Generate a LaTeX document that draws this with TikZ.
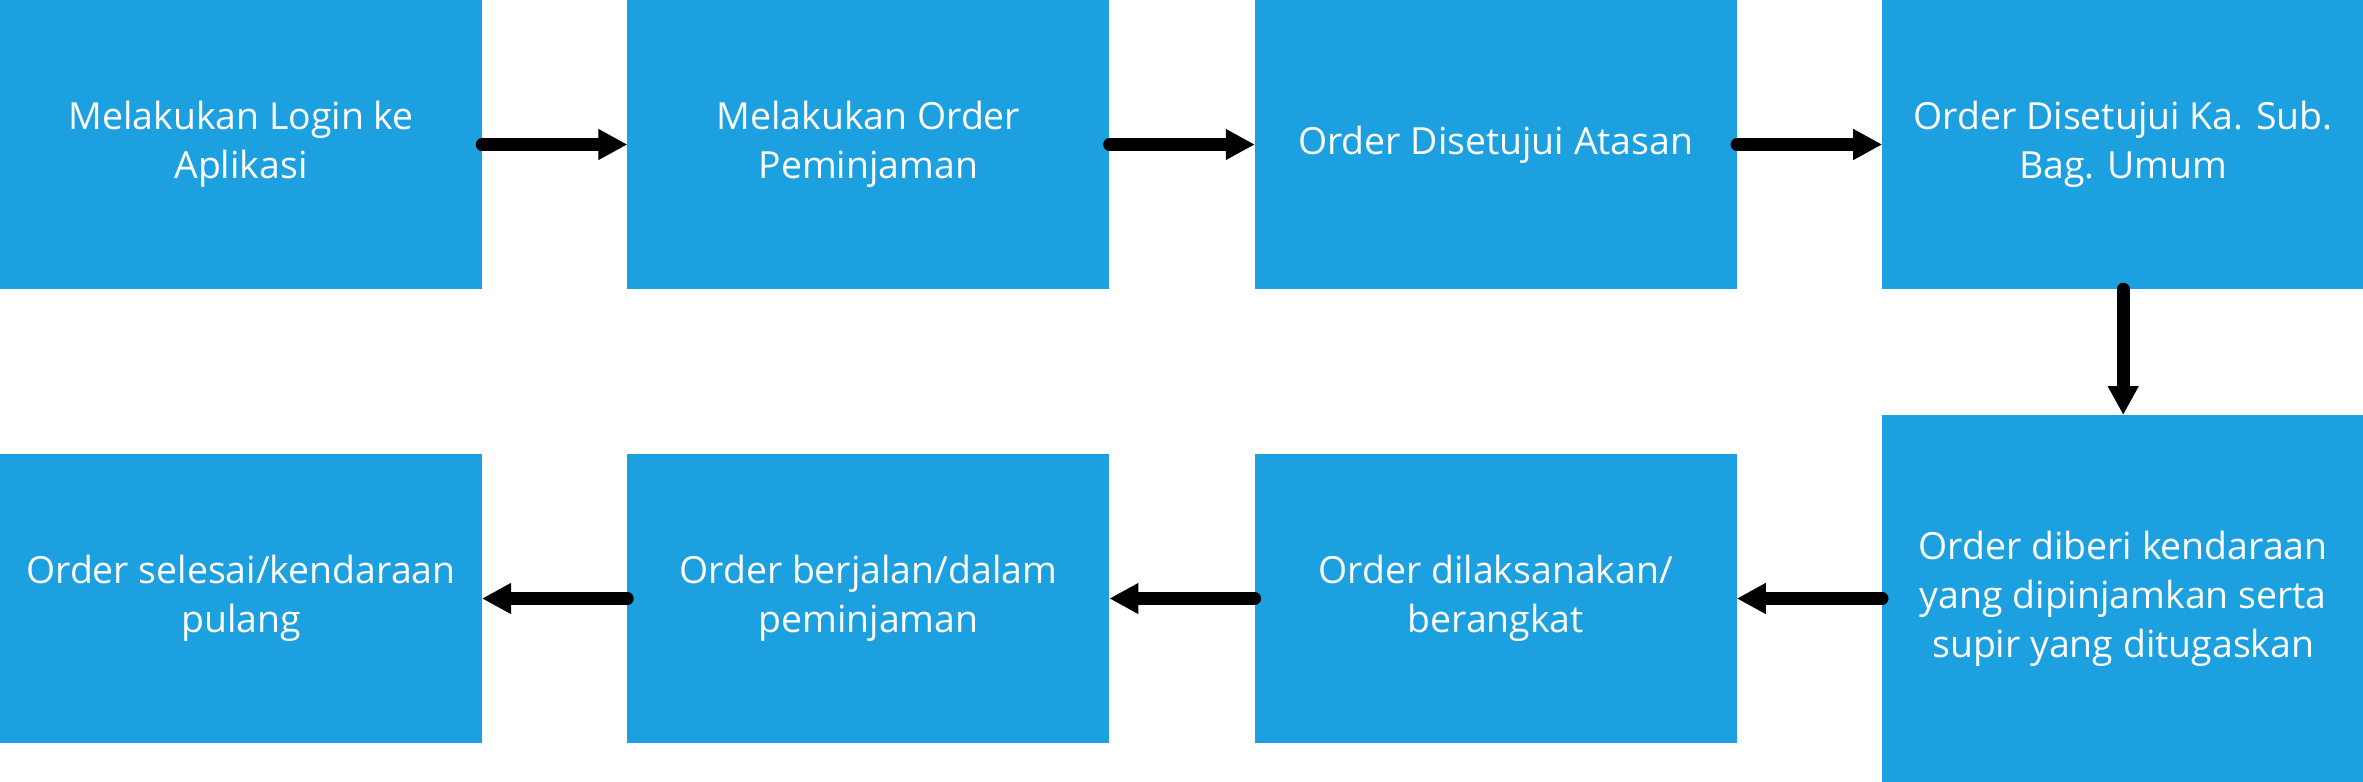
\documentclass[tikz,border=0pt]{standalone}
\usepackage{fontspec}
\setmainfont{Open Sans}
\usetikzlibrary{shapes, calc, positioning, arrows.meta}
\definecolor{biru}{RGB}{29,160,224}

\begin{document}
\begin{tikzpicture}[node distance = 72.7pt]
 \tikzstyle{P} = [fill=biru, rectangle, minimum height=144.5pt, minimum width=241pt, inner sep=0pt, outer sep=0pt, text=white, align=center, font=\fontsize{18.7}{24.5}\selectfont]
 \tikzstyle{Q} = [P, minimum height=183.5pt]
 \tikzstyle{A} = [line width=6.3pt, line cap=round, -{Triangle[width=14.5pt, length=14.5pt]}]

 \useasboundingbox (0,0) rectangle (1181.5pt,-391pt);

 \node [P, anchor=north west] (P1) at (0,0) {Melakukan Login ke\\Aplikasi};
 \node [P, right = of P1] (P2) {Melakukan Order\\Peminjaman};
 \node [P, right = of P2] (P3) {Order Disetujui Atasan};
 \node [P, right = of P3] (P4) {Order Disetujui Ka. Sub.\\Bag. Umum};
 \node [Q, below = 63pt of P4] (P5) {Order diberi kendaraan\\yang dipinjamkan serta\\supir yang ditugaskan};
 \node [P, left  = of P5] (P6) {Order dilaksanakan/\\berangkat};
 \node [P, left  = of P6] (P7) {Order berjalan/dalam\\peminjaman};
 \node [P, left  = of P7] (P8) {Order selesai/kendaraan\\pulang};

 \draw [A] (P1) -- (P2);
 \draw [A] (P2) -- (P3);
 \draw [A] (P3) -- (P4);
 \draw [A] (P4) -- (P5);
 \draw [A] (P5) -- (P6);
 \draw [A] (P6) -- (P7);
 \draw [A] (P7) -- (P8);
\end{tikzpicture}
\end{document}
